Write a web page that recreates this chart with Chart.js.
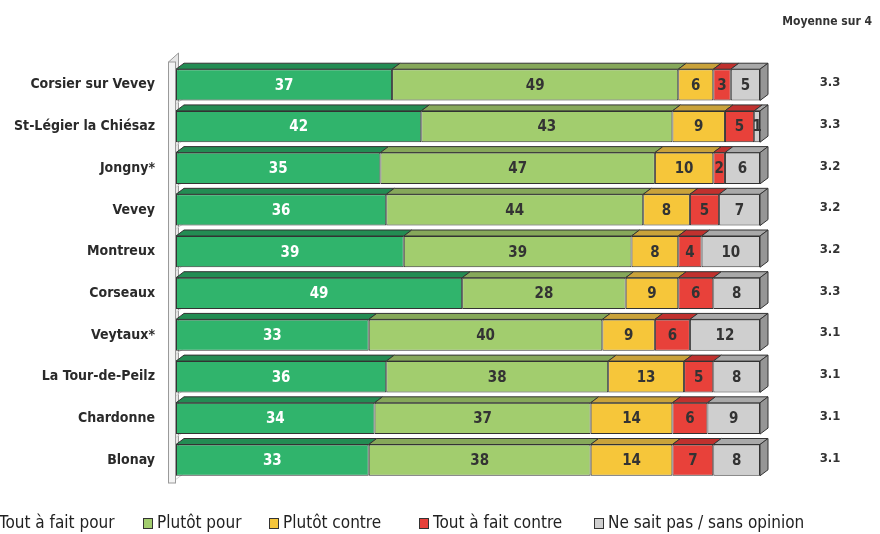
<!DOCTYPE html>
<html>
<head>
<meta charset="utf-8">
<script src="https://cdn.jsdelivr.net/npm/chart.js@4"></script>
<style>
  html, body { margin: 0; background: #fff; }
  #wrap { width: 880px; height: 534px; }
</style>
</head>
<body>
<div id="wrap"><canvas id="chart"></canvas></div>
<script>
const communes = ['Corsier sur Vevey', 'St-Légier la Chiésaz', 'Jongny*', 'Vevey', 'Montreux',
  'Corseaux', 'Veytaux*', 'La Tour-de-Peilz', 'Chardonne', 'Blonay']
const toutPour = [37, 42, 35, 36, 39, 49, 33, 36, 34, 33]
const plutotPour = [49, 43, 47, 44, 39, 28, 40, 38, 37, 38]
const plutotContre = [6, 9, 10, 8, 8, 9, 9, 13, 14, 14]
const toutContre = [3, 5, 2, 5, 4, 6, 6, 5, 6, 7]
const sansOpinion = [5, 1, 6, 7, 10, 8, 12, 8, 9, 8]
const moyennes = ['3.3', '3.3', '3.2', '3.2', '3.2', '3.3', '3.1', '3.1', '3.1', '3.1']

const NARROW = '"Liberation Sans Narrow", "Arial Narrow", "DejaVu Sans Condensed", sans-serif'
const DX = 8, DY = 6

const series = [
  { label: 'Tout à fait pour', data: toutPour, front: '#30b46c', top: '#238c53', text: '#fff' },
  { label: 'Plutôt pour', data: plutotPour, front: '#a2cd6e', top: '#86a85a', text: '#333' },
  { label: 'Plutôt contre', data: plutotContre, front: '#f6c63a', top: '#c9a23a', text: '#333' },
  { label: 'Tout à fait contre', data: toutContre, front: '#e8413a', top: '#c0312e', text: '#333' },
  { label: 'Ne sait pas / sans opinion', data: sansOpinion, front: '#cfcfcf', top: '#a9a9a9', text: '#333' }
]

// petit mur gris à gauche, faces 3D des barres, valeurs, moyennes, légende
const decor = {
  id: 'decor',
  beforeDatasetsDraw(chart) {
    const { ctx, chartArea: a } = chart
    ctx.save()
    ctx.strokeStyle = '#9a9a9a'
    ctx.lineWidth = 1
    ctx.fillStyle = '#e6e6e6'
    ctx.beginPath()
    ctx.moveTo(168.5, a.top - 2)
    ctx.lineTo(178.5, a.top - 11)
    ctx.lineTo(178.5, a.bottom - 8)
    ctx.lineTo(168.5, a.bottom + 2)
    ctx.closePath()
    ctx.fill()
    ctx.stroke()
    ctx.fillStyle = '#f4f4f4'
    ctx.fillRect(168.5, a.top - 2, 7, a.bottom - a.top + 4)
    ctx.strokeRect(168.5, a.top - 2, 7, a.bottom - a.top + 4)
    // sol gris clair entre les barres
    ctx.strokeStyle = '#d4d4d4'
    chart.getDatasetMeta(0).data.forEach(bar => {
      const yb = bar.y + bar.height / 2 + 3.5
      ctx.beginPath()
      ctx.moveTo(176, yb)
      ctx.lineTo(184, yb - DY)
      ctx.stroke()
    })
    ctx.restore()
  },
  afterDatasetsDraw(chart) {
    const { ctx } = chart
    const n = chart.data.labels.length
    ctx.save()
    ctx.lineWidth = 1
    ctx.strokeStyle = '#333'
    for (let i = 0; i < n; i++) {
      chart.data.datasets.forEach((ds, d) => {
        const bar = chart.getDatasetMeta(d).data[i]
        const x1 = Math.min(bar.base, bar.x), x2 = Math.max(bar.base, bar.x)
        const y1 = bar.y - bar.height / 2, y2 = bar.y + bar.height / 2
        ctx.fillStyle = series[d].top
        ctx.beginPath()
        ctx.moveTo(x1, y1)
        ctx.lineTo(x1 + DX, y1 - DY)
        ctx.lineTo(x2 + DX, y1 - DY)
        ctx.lineTo(x2, y1)
        ctx.closePath()
        ctx.fill()
        ctx.stroke()
        if (d === chart.data.datasets.length - 1) {
          ctx.fillStyle = '#969696'
          ctx.beginPath()
          ctx.moveTo(x2, y1)
          ctx.lineTo(x2 + DX, y1 - DY)
          ctx.lineTo(x2 + DX, y2 - DY)
          ctx.lineTo(x2, y2)
          ctx.closePath()
          ctx.fill()
          ctx.stroke()
        }
      })
    }
    ctx.font = 'bold 15px ' + NARROW
    ctx.textAlign = 'center'
    ctx.textBaseline = 'middle'
    chart.data.datasets.forEach((ds, d) => {
      chart.getDatasetMeta(d).data.forEach((bar, i) => {
        ctx.fillStyle = series[d].text
        ctx.fillText(String(ds.data[i]), (bar.base + bar.x) / 2, bar.y + 1)
      })
    })
    ctx.fillStyle = '#333'
    ctx.font = 'bold 13px ' + NARROW
    chart.getDatasetMeta(0).data.forEach((bar, i) => {
      ctx.fillText(moyennes[i], 830, bar.y - 2)
    })
    ctx.font = 'bold 12px ' + NARROW
    ctx.textAlign = 'right'
    ctx.fillText('Moyenne sur 4', 872, 22)
    ctx.restore()
  },
  afterDraw(chart) {
    const { ctx } = chart
    const starts = [-15, 143, 269, 419, 594]
    const y = 524
    ctx.save()
    ctx.font = '17px ' + NARROW
    ctx.textBaseline = 'middle'
    ctx.textAlign = 'left'
    series.forEach((s, d) => {
      ctx.fillStyle = s.front
      ctx.strokeStyle = '#333'
      ctx.lineWidth = 1
      ctx.fillRect(starts[d] + 0.5, y - 5.5, 9, 10)
      ctx.strokeRect(starts[d] + 0.5, y - 5.5, 9, 10)
      ctx.fillStyle = '#222'
      ctx.fillText(s.label, starts[d] + 14, y)
    })
    ctx.restore()
  }
}

new Chart(document.getElementById('chart'), {
  type: 'bar',
  data: {
    labels: communes,
    datasets: series.map(s => ({
      label: s.label,
      data: s.data,
      backgroundColor: s.front,
      borderColor: '#333',
      borderWidth: 1,
      borderSkipped: false,
      barPercentage: 0.75,
      categoryPercentage: 1
    }))
  },
  options: {
    indexAxis: 'y',
    responsive: true,
    maintainAspectRatio: false,
    animation: false,
    layout: { padding: { top: 64, bottom: 53, left: 0, right: 120 } },
    plugins: {
      legend: { display: false },
      tooltip: { enabled: false }
    },
    scales: {
      x: { display: false, stacked: true, min: 0, max: 100 },
      y: {
        stacked: true,
        grid: { display: false },
        border: { display: false },
        ticks: {
          padding: 13,
          color: '#2a2a2a',
          font: { family: NARROW, size: 14, weight: 'bold' }
        },
        afterFit(scale) { scale.width = 176 }
      }
    }
  },
  plugins: [decor]
})
</script>
</body>
</html>
